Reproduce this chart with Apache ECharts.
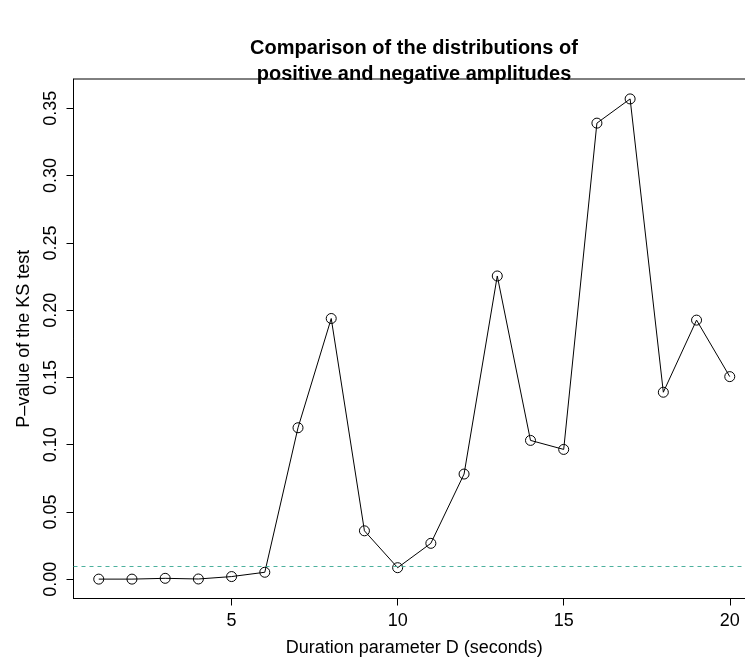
<!DOCTYPE html>
<html>
<head>
<meta charset="utf-8">
<script src="https://cdn.jsdelivr.net/npm/echarts@6/dist/echarts.min.js"></script>
<style>html,body{margin:0;padding:0;background:#fff;overflow:hidden;}#c{width:745px;height:659px;}</style>
</head>
<body>
<div id="c"></div>
<script>
const durations = [1,2,3,4,5,6,7,8,9,10,11,12,13,14,15,16,17,18,19,20];
const pValues = [0.0001,0.0001,0.0007,0.0002,0.0020,0.0052,0.1126,0.1938,0.0360,0.0086,0.0267,0.0782,0.2254,0.1032,0.0965,0.3390,0.3570,0.1390,0.1926,0.1506];
const xTicks = [5,10,15,20];
const yTicks = [0,0.05,0.10,0.15,0.20,0.25,0.30,0.35];
const threshold = 0.01;

const font = "'Liberation Sans', Arial, Helvetica, sans-serif";
const chart = echarts.init(document.getElementById('c'), null, {renderer:'canvas'});
chart.setOption({
  animation: false,
  backgroundColor: '#fff',
  title: {
    text: 'Comparison of the distributions of\npositive and negative amplitudes',
    left: 414, top: 35, padding: 0, textAlign: 'center',
    textStyle: {fontFamily: font, fontSize: 20, fontWeight: 'bold', color: '#000', lineHeight: 26}
  },
  grid: {left: 73.5, width: 681.5, top: 79, bottom: 60.5, outerBoundsMode: 'none', containLabel: false,
         show: true, borderColor: '#000', borderWidth: 1, backgroundColor: 'transparent'},
  xAxis: {
    type: 'value', min: 0.24, max: 20.76,
    name: 'Duration parameter D (seconds)', nameLocation: 'middle', nameGap: 41,
    nameTextStyle: {fontFamily: font, fontSize: 18, color: '#000'},
    splitLine: {show: false},
    axisLine: {show: true, onZero: false, lineStyle: {color: '#000', width: 1}},
    axisTick: {show: true, length: 7, inside: false, customValues: xTicks, lineStyle: {color: '#000'}},
    axisLabel: {show: true, customValues: xTicks, margin: 14, fontFamily: font, fontSize: 18, color: '#000', formatter: v => String(v)}
  },
  yAxis: {
    type: 'value', min: -0.0143, max: 0.3718,
    name: 'P\u2013value of the KS test', nameLocation: 'middle', nameGap: 40, nameRotate: 90,
    nameTextStyle: {fontFamily: font, fontSize: 18, color: '#000'},
    splitLine: {show: false},
    axisLine: {show: true, onZero: false, lineStyle: {color: '#000', width: 1}},
    axisTick: {show: true, length: 7, inside: false, customValues: yTicks, lineStyle: {color: '#000'}},
    axisLabel: {show: true, customValues: yTicks, rotate: 90, margin: 13, fontFamily: font, fontSize: 18, color: '#000', formatter: v => v.toFixed(2)}
  },
  series: [{
    type: 'line',
    data: durations.map((d, i) => [d, pValues[i]]),
    symbol: 'circle', symbolSize: 10, showAllSymbol: true,
    lineStyle: {color: '#000', width: 1},
    itemStyle: {color: 'rgba(0,0,0,0)', borderColor: '#000', borderWidth: 1},
    emphasis: {disabled: true},
    markLine: {
      silent: true, symbol: ['none','none'], label: {show: false},
      lineStyle: {color: '#3aa994', type: [4,4], width: 1.2, opacity: 0.9},
      data: [{yAxis: threshold}]
    }
  }]
});
</script>
</body>
</html>
